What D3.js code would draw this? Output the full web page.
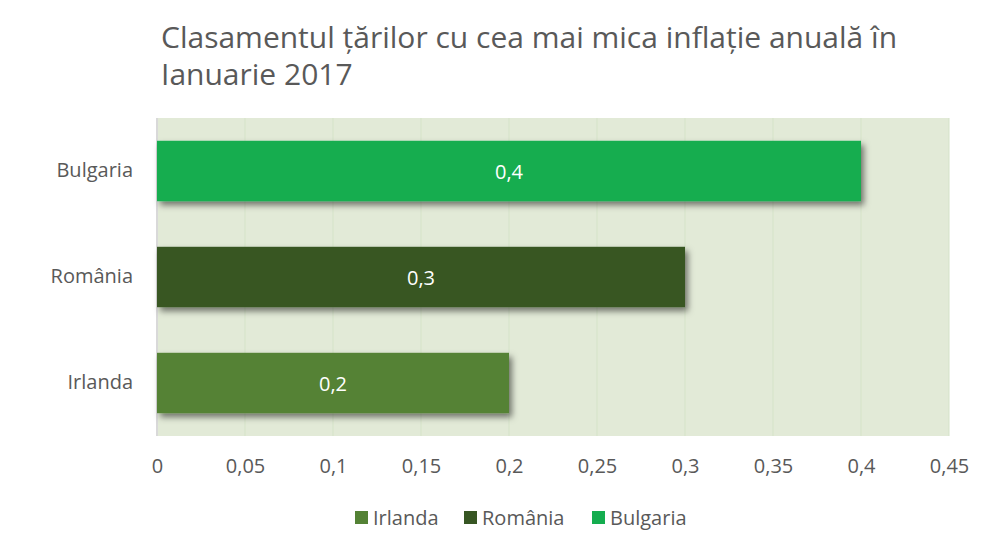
<!DOCTYPE html>
<html><head><meta charset="utf-8">
<script src="https://cdn.jsdelivr.net/npm/d3@7"></script>
<style>body{margin:0;background:#fff}text{font-family:"Open Sans",sans-serif}</style>
</head><body><svg id="c" width="1000" height="536"></svg>
<script>
const categories = ["Irlanda", "România", "Bulgaria"];
const values = [0.2, 0.3, 0.4];
const colors = ["#548235", "#375623", "#14ad4f"];
const ticks = [0, 0.05, 0.1, 0.15, 0.2, 0.25, 0.3, 0.35, 0.4, 0.45];
const titleLines = ["Clasamentul țărilor cu cea mai mica inflație anuală în", "Ianuarie 2017"];

const svg = d3.select("#c");
const defs = svg.append("defs");
const f = defs.append("filter").attr("id","sh").attr("x","-5%").attr("y","-20%").attr("width","115%").attr("height","160%");
f.append("feDropShadow").attr("dx",3).attr("dy",4).attr("stdDeviation",3).attr("flood-color","#000").attr("flood-opacity",0.5);

const pL = 157, pR = 949, pT = 118, pB = 436;
const x = d3.scaleLinear().domain([0, 0.45]).range([pL, pR]);
const y = d3.scaleBand().domain(categories.slice().reverse()).range([pT, pB]).paddingInner(0.43).paddingOuter(0.215);

svg.append("rect").attr("x", pL).attr("y", pT).attr("width", pR-pL).attr("height", pB-pT).attr("fill", "#e2ead7");

svg.append("g").selectAll("line").data(ticks.slice(1)).join("line")
  .attr("x1", d=>x(d)).attr("x2", d=>x(d)).attr("y1", pT).attr("y2", pB)
  .attr("stroke", "#d5e3c8").attr("stroke-width", 1);

svg.append("line").attr("x1", pL).attr("x2", pL).attr("y1", pT).attr("y2", pB).attr("stroke","#d9d9d9").attr("stroke-width",2);

const gb = svg.append("g");
gb.selectAll("rect").data(categories).join("rect")
  .attr("x", x(0)).attr("y", d=>y(d)).attr("width", (d,i)=>x(values[i])-x(0)).attr("height", y.bandwidth())
  .attr("fill", (d,i)=>colors[i]).attr("filter","url(#sh)");

gb.selectAll("text").data(categories).join("text")
  .attr("x", (d,i)=>(x(values[i])+x(0))/2).attr("y", d=>y(d)+y.bandwidth()/2+1).attr("dy","0.35em")
  .attr("text-anchor","middle").attr("fill","#fff").attr("font-size",20)
  .text((d,i)=>String(values[i]).replace(".", ","));

const xa = svg.append("g").attr("transform", `translate(0,${pB})`)
  .call(d3.axisBottom(x).tickValues(ticks).tickSize(0).tickPadding(23).tickFormat(d=>String(d).replace(".", ",")));
xa.select(".domain").remove();
xa.selectAll("text").attr("font-size",20).attr("fill","#595959").attr("font-family","Open Sans");

const ya = svg.append("g").attr("transform", `translate(${pL},0)`)
  .call(d3.axisLeft(y).tickSize(0).tickPadding(24));
ya.select(".domain").remove();
ya.selectAll("text").attr("font-size",20).attr("fill","#595959").attr("font-family","Open Sans");

const t = svg.append("text").attr("x", 161).attr("y", 48).attr("fill","#595959").attr("font-size",30);
titleLines.forEach((l,i)=>t.append("tspan").attr("x",161).attr("y",48+37*i).text(l));

const leg = svg.append("g");
const legX = [355, 464, 592];
categories.forEach((c,i)=>{
  leg.append("rect").attr("x", legX[i]).attr("y", 511).attr("width", 13).attr("height", 13).attr("fill", colors[i]);
  leg.append("text").attr("x", legX[i]+18).attr("y", 518).attr("dy","0.35em").attr("font-size",20).attr("fill","#595959").text(c);
});
</script></body></html>
